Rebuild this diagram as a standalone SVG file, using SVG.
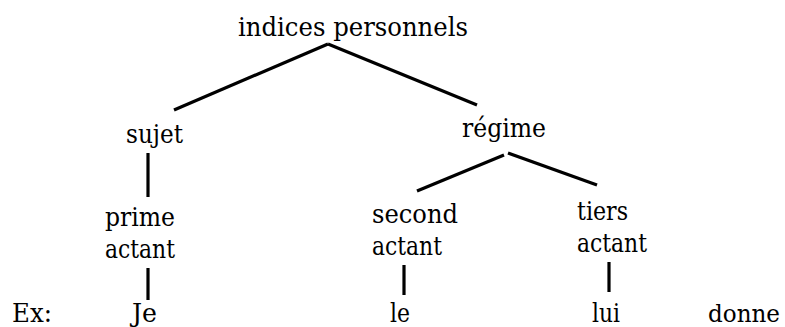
<svg xmlns="http://www.w3.org/2000/svg" width="785" height="327" viewBox="0 0 785 327">
<style>
text{font-family:"DejaVu Serif","Liberation Serif",serif;font-size:26px;fill:#000}
.c line{stroke:#000;stroke-width:3.2;stroke-linecap:butt}
</style>
<rect width="785" height="327" fill="#fff"/>
<g class="c" id="connectors">
<line x1="328" y1="44" x2="174" y2="110"/>
<line x1="328" y1="44" x2="477" y2="105"/>
<line x1="148" y1="153" x2="148" y2="197"/>
<line x1="148" y1="268" x2="148" y2="300"/>
<line x1="504" y1="155" x2="417" y2="191"/>
<line x1="508" y1="153" x2="597" y2="185"/>
<line x1="404" y1="265" x2="404" y2="295"/>
<line x1="609" y1="262" x2="609" y2="292"/>
</g>
<g id="root"><text x="238" y="36" textLength="230" lengthAdjust="spacingAndGlyphs">indices personnels</text></g>
<g id="sujet"><text x="126" y="143" textLength="57" lengthAdjust="spacingAndGlyphs">sujet</text></g>
<g id="regime"><text x="462" y="137" textLength="84" lengthAdjust="spacingAndGlyphs">régime</text></g>
<g id="prime"><text x="105" y="226" textLength="70" lengthAdjust="spacingAndGlyphs">prime</text><text x="105" y="258" textLength="70" lengthAdjust="spacingAndGlyphs">actant</text></g>
<g id="second"><text x="372" y="223" textLength="86" lengthAdjust="spacingAndGlyphs">second</text><text x="372" y="255" textLength="70" lengthAdjust="spacingAndGlyphs">actant</text></g>
<g id="tiers"><text x="577" y="220" textLength="51" lengthAdjust="spacingAndGlyphs">tiers</text><text x="577" y="252" textLength="70" lengthAdjust="spacingAndGlyphs">actant</text></g>
<g id="ex"><text x="12" y="322" textLength="40" lengthAdjust="spacingAndGlyphs">Ex:</text></g>
<g id="je"><text x="132" y="322" textLength="25" lengthAdjust="spacingAndGlyphs">Je</text></g>
<g id="le"><text x="390" y="322" textLength="20" lengthAdjust="spacingAndGlyphs">le</text></g>
<g id="lui"><text x="592" y="322" textLength="28" lengthAdjust="spacingAndGlyphs">lui</text></g>
<g id="donne"><text x="708" y="322" font-size="24.5" style="font-size:24.5px" textLength="72" lengthAdjust="spacingAndGlyphs">donne</text></g>
</svg>
